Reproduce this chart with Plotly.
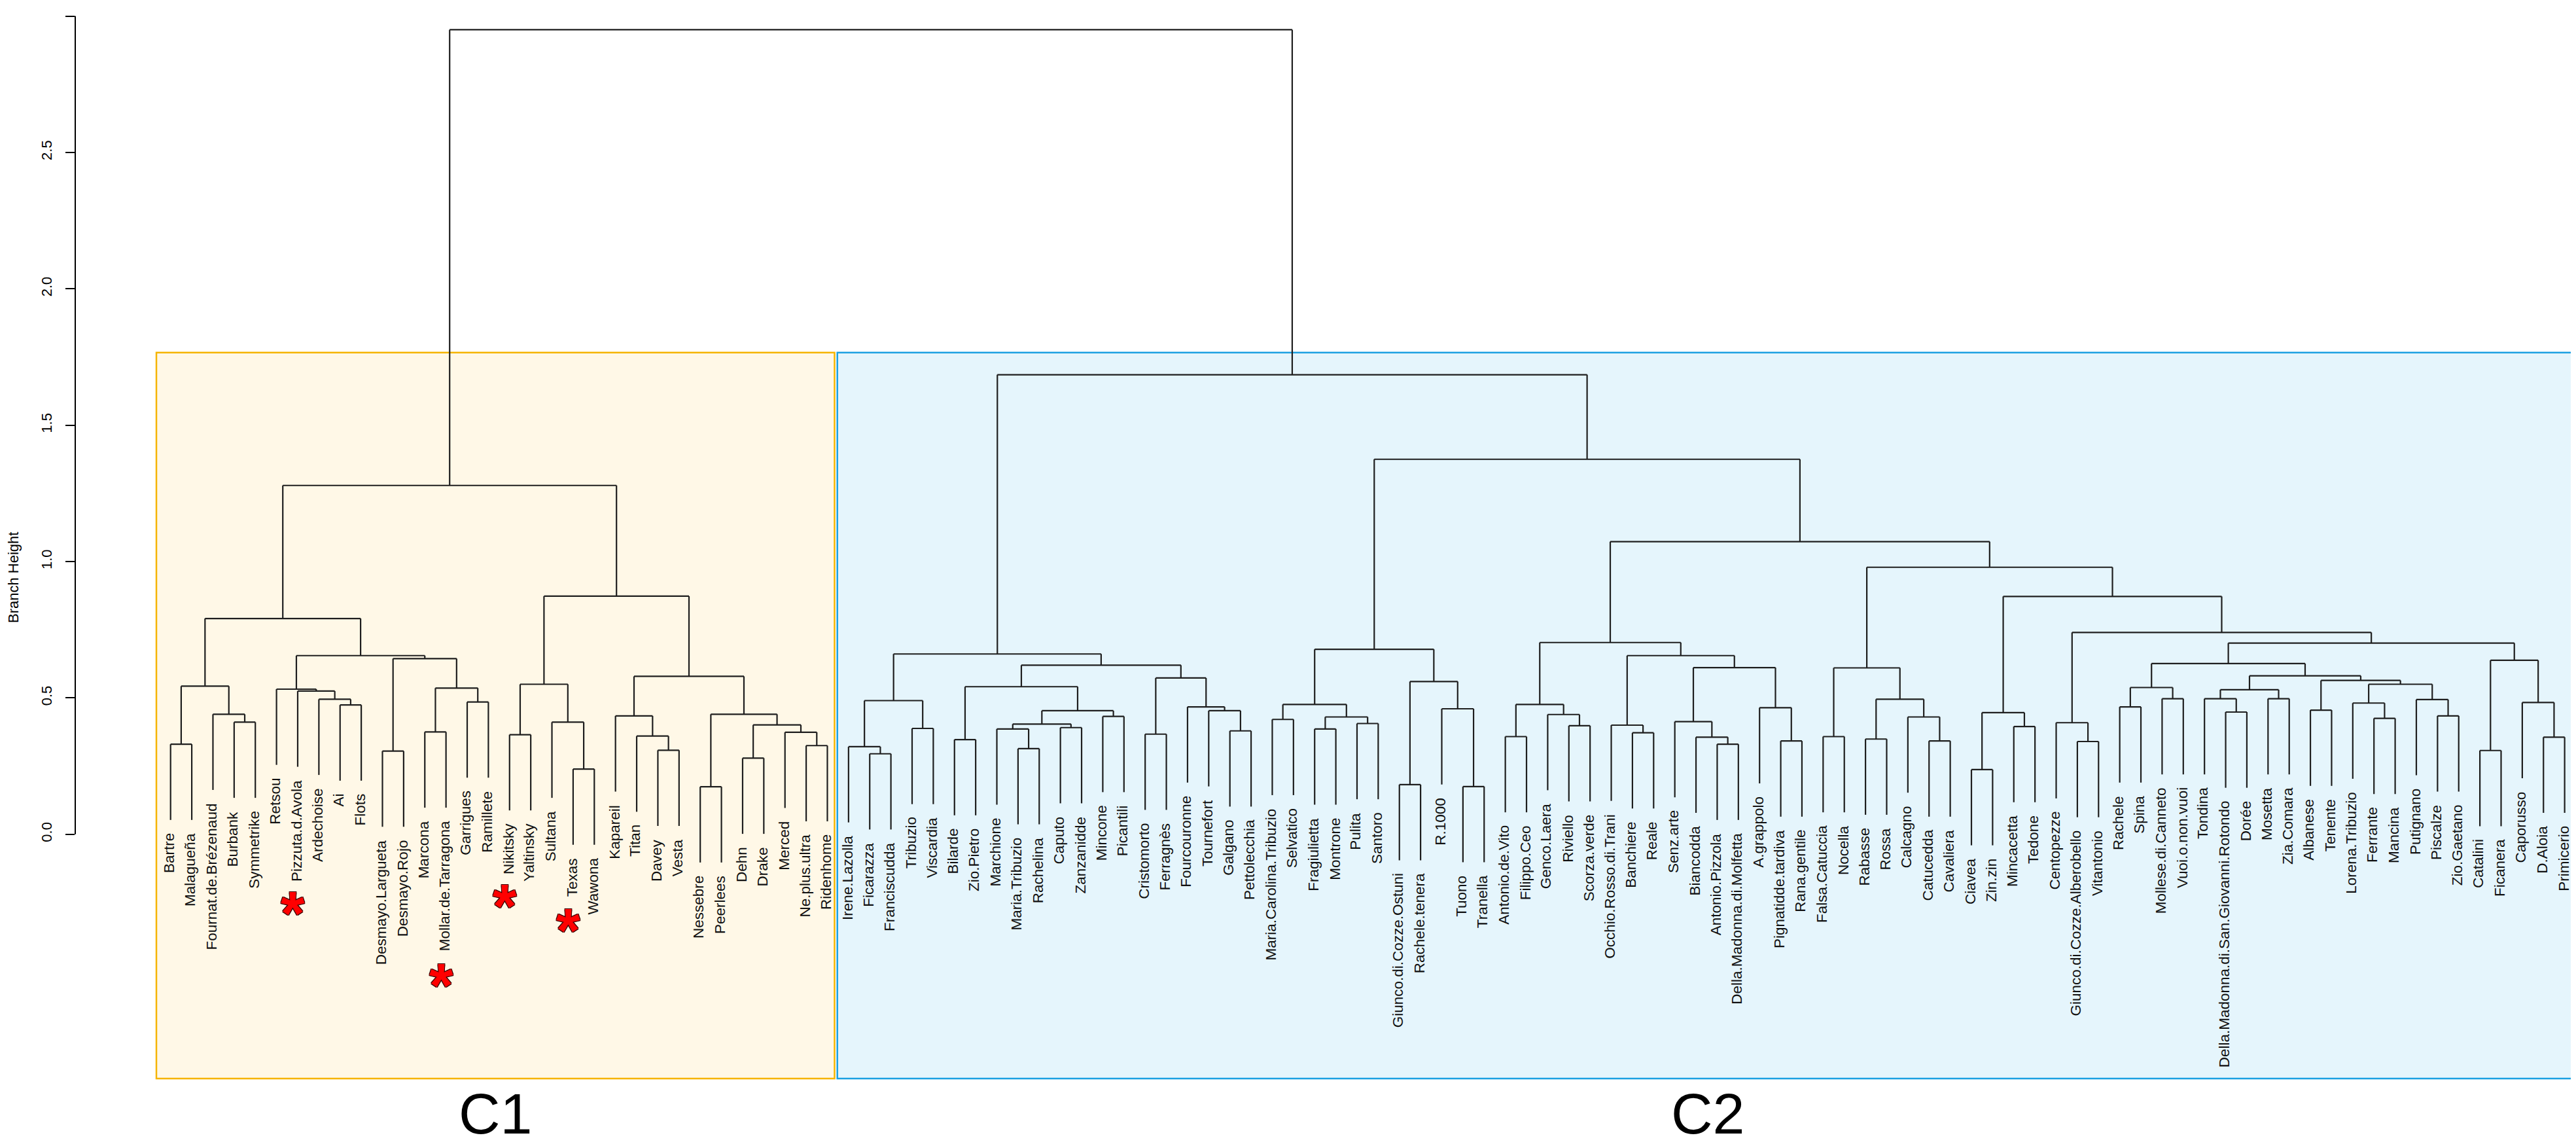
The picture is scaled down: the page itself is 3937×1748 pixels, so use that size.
import plotly.graph_objects as go

# leaf order, left to right
leaves_c1 = ["Bartre", "Malagueña", "Fournat.de.Brézenaud", "Burbank", "Symmetrike",
             "Retsou", "Pizzuta.d.Avola", "Ardechoise", "Ai", "Flots",
             "Desmayo.Largueta", "Desmayo.Rojo", "Marcona", "Mollar.de.Tarragona",
             "Garrigues", "Ramillete", "Nikitsky", "Yaltinsky", "Sultana", "Texas",
             "Wawona", "Kapareil", "Titan", "Davey", "Vesta", "Nessebre", "Peerlees",
             "Dehn", "Drake", "Merced", "Ne.plus.ultra", "Ridenhome"]

leaves_c2 = ["Irene.Lazolla", "Ficarazza", "Franciscudda", "Tribuzio", "Viscardia",
             "Bilarde", "Zio.Pietro", "Marchione", "Maria.Tribuzio", "Rachelina",
             "Caputo", "Zanzanidde", "Mincone", "Picantili", "Cristomorto", "Ferragnès",
             "Fourcouronne", "Tournefort", "Galgano", "Pettolecchia",
             "Maria.Carolina.Tribuzio", "Selvatico", "Fragiulietta", "Montrone", "Pulita",
             "Santoro", "Giunco.di.Cozze.Ostuni", "Rachele.tenera", "R.1000", "Tuono",
             "Tranella", "Antonio.de.Vito", "Filippo.Ceo", "Genco.Laera", "Riviello",
             "Scorza.verde", "Occhio.Rosso.di.Trani", "Banchiere", "Reale", "Senz.arte",
             "Biancodda", "Antonio.Pizzola", "Della.Madonna.di.Molfetta", "A.grappolo",
             "Pignatidde.tardiva", "Rana.gentile", "Falsa.Catuccia", "Nocella", "Rabasse",
             "Rossa", "Calcagno", "Catucedda", "Cavaliera", "Ciavea", "Zin.zin",
             "Mincacetta", "Tedone", "Centopezze", "Giunco.di.Cozze.Alberobello",
             "Vitantonio", "Rachele", "Spina", "Mollese.di.Canneto", "Vuoi.o.non.vuoi",
             "Tondina", "Della.Madonna.di.San.Giovanni.Rotondo", "Dorée", "Mosetta",
             "Zia.Comara", "Albanese", "Tenente", "Lorena.Tribuzio", "Ferrante", "Mancina",
             "Putignano", "Piscalze", "Zio.Gaetano", "Catalini", "Ficanera", "Caporusso",
             "D.Aloia", "Primicerio"]

# merges: (name, left, right, height)
merges_c1 = [
    ("a1", "Bartre", "Malagueña", 0.330),
    ("a2", "Burbank", "Symmetrike", 0.411),
    ("a3", "Fournat.de.Brézenaud", "a2", 0.440),
    ("a4", "a1", "a3", 0.543),
    ("a5", "Ai", "Flots", 0.474),
    ("a6", "Ardechoise", "a5", 0.495),
    ("a7", "Pizzuta.d.Avola", "a6", 0.525),
    ("a8", "Retsou", "a7", 0.532),
    ("a9", "Desmayo.Largueta", "Desmayo.Rojo", 0.305),
    ("a10", "Marcona", "Mollar.de.Tarragona", 0.375),
    ("a11", "Garrigues", "Ramillete", 0.485),
    ("a12", "a10", "a11", 0.536),
    ("a13", "a9", "a12", 0.644),
    ("a14", "a8", "a13", 0.655),
    ("a15", "a4", "a14", 0.791),
    ("a16", "Nikitsky", "Yaltinsky", 0.365),
    ("a17", "Texas", "Wawona", 0.239),
    ("a18", "Sultana", "a17", 0.411),
    ("a19", "a16", "a18", 0.550),
    ("a20", "Davey", "Vesta", 0.308),
    ("a21", "Titan", "a20", 0.360),
    ("a22", "Kapareil", "a21", 0.434),
    ("a23", "Nessebre", "Peerlees", 0.174),
    ("a24", "Dehn", "Drake", 0.279),
    ("a25", "Ne.plus.ultra", "Ridenhome", 0.325),
    ("a26", "Merced", "a25", 0.374),
    ("a27", "a24", "a26", 0.401),
    ("a28", "a23", "a27", 0.440),
    ("a29", "a22", "a28", 0.579),
    ("a30", "a19", "a29", 0.873),
    ("C1", "a15", "a30", 1.279),
]

merges_c2 = [
    ("b1", "Ficarazza", "Franciscudda", 0.295),
    ("b2", "Irene.Lazolla", "b1", 0.321),
    ("b3", "Tribuzio", "Viscardia", 0.388),
    ("b4", "b2", "b3", 0.490),
    ("b5", "Bilarde", "Zio.Pietro", 0.347),
    ("b6", "Maria.Tribuzio", "Rachelina", 0.314),
    ("b7", "Marchione", "b6", 0.386),
    ("b8", "Caputo", "Zanzanidde", 0.391),
    ("b9", "b7", "b8", 0.404),
    ("b10", "Mincone", "Picantili", 0.432),
    ("b11", "b9", "b10", 0.453),
    ("b12", "b5", "b11", 0.541),
    ("b13", "Cristomorto", "Ferragnès", 0.367),
    ("b14", "Galgano", "Pettolecchia", 0.379),
    ("b15", "Tournefort", "b14", 0.453),
    ("b16", "Fourcouronne", "b15", 0.467),
    ("b17", "b13", "b16", 0.573),
    ("b18", "b12", "b17", 0.620),
    ("b19", "b4", "b18", 0.661),
    ("b20", "Maria.Carolina.Tribuzio", "Selvatico", 0.421),
    ("b21", "Fragiulietta", "Montrone", 0.386),
    ("b22", "Pulita", "Santoro", 0.406),
    ("b23", "b21", "b22", 0.430),
    ("b24", "b20", "b23", 0.476),
    ("b25", "Giunco.di.Cozze.Ostuni", "Rachele.tenera", 0.182),
    ("b26", "Tuono", "Tranella", 0.175),
    ("b27", "R.1000", "b26", 0.460),
    ("b28", "b25", "b27", 0.560),
    ("b29", "b24", "b28", 0.678),
    ("b30", "Antonio.de.Vito", "Filippo.Ceo", 0.358),
    ("b31", "Riviello", "Scorza.verde", 0.398),
    ("b32", "Genco.Laera", "b31", 0.439),
    ("b33", "b30", "b32", 0.476),
    ("b34", "Banchiere", "Reale", 0.372),
    ("b35", "Occhio.Rosso.di.Trani", "b34", 0.400),
    ("b36", "Antonio.Pizzola", "Della.Madonna.di.Molfetta", 0.330),
    ("b37", "Biancodda", "b36", 0.356),
    ("b38", "Senz.arte", "b37", 0.413),
    ("b39", "Pignatidde.tardiva", "Rana.gentile", 0.342),
    ("b40", "A.grappolo", "b39", 0.464),
    ("b41", "b38", "b40", 0.611),
    ("b42", "b35", "b41", 0.655),
    ("b43", "b33", "b42", 0.703),
    ("b44", "Falsa.Catuccia", "Nocella", 0.358),
    ("b45", "Rabasse", "Rossa", 0.349),
    ("b46", "Catucedda", "Cavaliera", 0.342),
    ("b47", "Calcagno", "b46", 0.430),
    ("b48", "b45", "b47", 0.495),
    ("b49", "b44", "b48", 0.610),
    ("b50", "Ciavea", "Zin.zin", 0.237),
    ("b51", "Mincacetta", "Tedone", 0.395),
    ("b52", "b50", "b51", 0.446),
    ("b53", "Giunco.di.Cozze.Alberobello", "Vitantonio", 0.340),
    ("b54", "Centopezze", "b53", 0.409),
    ("b55", "Rachele", "Spina", 0.467),
    ("b56", "Mollese.di.Canneto", "Vuoi.o.non.vuoi", 0.497),
    ("b57", "b55", "b56", 0.538),
    ("b58", "Della.Madonna.di.San.Giovanni.Rotondo", "Dorée", 0.448),
    ("b59", "Tondina", "b58", 0.497),
    ("b60", "Mosetta", "Zia.Comara", 0.497),
    ("b61", "b59", "b60", 0.530),
    ("b62", "Albanese", "Tenente", 0.455),
    ("b63", "Ferrante", "Mancina", 0.425),
    ("b64", "Lorena.Tribuzio", "b63", 0.481),
    ("b65", "Piscalze", "Zio.Gaetano", 0.434),
    ("b66", "Putignano", "b65", 0.494),
    ("b67", "b64", "b66", 0.550),
    ("b68", "b62", "b67", 0.564),
    ("b69", "b61", "b68", 0.581),
    ("b70", "b57", "b69", 0.626),
    ("b71", "Catalini", "Ficanera", 0.307),
    ("b72", "D.Aloia", "Primicerio", 0.356),
    ("b73", "Caporusso", "b72", 0.483),
    ("b74", "b71", "b73", 0.638),
    ("b75", "b70", "b74", 0.701),
    ("b76", "b54", "b75", 0.740),
    ("b77", "b52", "b76", 0.872),
    ("b78", "b49", "b77", 0.979),
    ("b79", "b43", "b78", 1.073),
    ("b80", "b29", "b79", 1.375),
    ("C2", "b19", "b80", 1.685),
]

merges_top = [("root", "C1", "C2", 2.950)]

marked = ["Pizzuta.d.Avola", "Mollar.de.Tarragona", "Nikitsky", "Texas"]
y_ticks = [0.0, 0.5, 1.0, 1.5, 2.0, 2.5, 3.0]

# ---- page geometry (pixels) ----
W, H = 3937, 1748
LEFT = 107          # y axis line
LEAF0_PX = 252.7    # first leaf
LEAF_STEP = 32.38   # leaf spacing
ZERO_PX = 1266.7    # height 0
PX_PER_UNIT = 416.7
FONT = "Liberation Sans, Arial, Helvetica, sans-serif"
LABEL_SIZE = 22.5
LABEL_GAP = 20

x_range = [(LEFT - LEAF0_PX) / LEAF_STEP, (W - LEAF0_PX) / LEAF_STEP]
y_range = [-(H - ZERO_PX) / PX_PER_UNIT, ZERO_PX / PX_PER_UNIT]

leaves = leaves_c1 + leaves_c2
all_merges = merges_c1 + merges_c2 + merges_top
hts = [m[3] for m in all_merges]
hang = 0.1 * (max(hts) - min(hts))

pos = {name: i for i, name in enumerate(leaves)}
node_h = {}
tip = {}
xs, ys = [], []
for name, a, b, h in all_merges:
    for c in (a, b):
        if c in node_h:
            ch = node_h[c]
        else:
            ch = h - hang
            tip[c] = ch
        xs += [pos[c], pos[c], None]
        ys += [ch, h, None]
    xs += [pos[a], pos[b], None]
    ys += [h, h, None]
    pos[name] = (pos[a] + pos[b]) / 2
    node_h[name] = h

fig = go.Figure()
fig.add_trace(go.Scatter(x=xs, y=ys, mode="lines",
                         line=dict(color="#1e1e1e", width=2.2),
                         hoverinfo="skip", showlegend=False))

# approximate Arial advance widths (em/1000) for placing the asterisks
aw = {c: 556 for c in "abdeghnopqu0123456789"}
aw.update({c: 500 for c in "cksvxyzJ"})
aw.update({c: 222 for c in "ijl"})
aw.update({c: 278 for c in "ft.I"})
aw.update({"r": 333, "m": 833, "w": 722, "M": 833, "W": 944})
aw.update({c: 667 for c in "ABEKPSVXY"})
aw.update({c: 722 for c in "CDHNRU"})
aw.update({c: 778 for c in "GOQ"})
aw.update({"F": 611, "T": 611, "Z": 611, "L": 556})


def text_px(s, size):
    return sum(aw.get(ch, 556) for ch in s) / 1000 * size


annotations = []
for name in leaves:
    annotations.append(dict(x=pos[name], y=tip[name], xref="x", yref="y",
                            text=name, showarrow=False, textangle=-90,
                            xanchor="center", yanchor="top",
                            yshift=-(LABEL_GAP - 2), xshift=-2,
                            font=dict(family=FONT, size=LABEL_SIZE, color="#111")))

for name in marked:
    L = text_px(name, LABEL_SIZE)
    annotations.append(dict(x=pos[name], y=tip[name], xref="x", yref="y",
                            text="<b>*</b>", showarrow=False,
                            xanchor="center", yanchor="middle",
                            yshift=-(LABEL_GAP + L + 29 + 20), xshift=-7,
                            font=dict(family=FONT, size=94, color="#ff0000",
                                      shadow="1px 1px 0 #3a0000, -1px -1px 0 #3a0000, "
                                             "1px -1px 0 #3a0000, -1px 1px 0 #3a0000")))

# cluster boxes
box_top, box_bottom = 1.766, -0.896
boxes = [
    (0 - 0.67, len(leaves_c1) - 1 + 0.34, "#f5b400", "#fff8e7", "C1"),
    (len(leaves_c1) - 0.53, len(leaves) - 1 + 0.64, "#1ba0e1", "#e5f5fc", "C2"),
]
shapes = []
for x0, x1, edge, fill, lab in boxes:
    shapes.append(dict(type="rect", xref="x", yref="y", x0=x0, x1=x1,
                       y0=box_bottom, y1=box_top, layer="below",
                       line=dict(color=edge, width=2.5), fillcolor=fill))
    annotations.append(dict(x=(x0 + x1) / 2, y=0, xref="x", yref="paper",
                            text=lab, showarrow=False, xanchor="center", yanchor="bottom",
                            yshift=3,
                            font=dict(family=FONT, size=88, color="#000")))

# R style axis line spanning the tick range only
shapes.append(dict(type="line", xref="paper", yref="y", x0=0, x1=0,
                   y0=y_ticks[0], y1=y_ticks[-1], line=dict(color="#000", width=2)))

annotations.append(dict(x=0, y=0.94, xref="paper", yref="y", xshift=-(LEFT - 12),
                        text="Branch Height", showarrow=False, textangle=-90,
                        xanchor="center", yanchor="middle",
                        font=dict(family=FONT, size=22, color="#000")))

fig.update_layout(
    width=W, height=H,
    margin=dict(l=LEFT, r=0, t=0, b=0),
    paper_bgcolor="white", plot_bgcolor="white",
    xaxis=dict(range=x_range, visible=False),
    yaxis=dict(range=y_range, tickvals=y_ticks, ticktext=[f"{v:.1f}" for v in y_ticks],
               ticks="outside", ticklen=14, tickwidth=2, tickcolor="#000",
               tickangle=-90, ticklabelstandoff=12,
               tickfont=dict(family=FONT, size=22, color="#000"),
               showgrid=False, zeroline=False, showline=False),
    shapes=shapes,
    annotations=annotations,
    showlegend=False,
)

fig.write_html("out.html")
